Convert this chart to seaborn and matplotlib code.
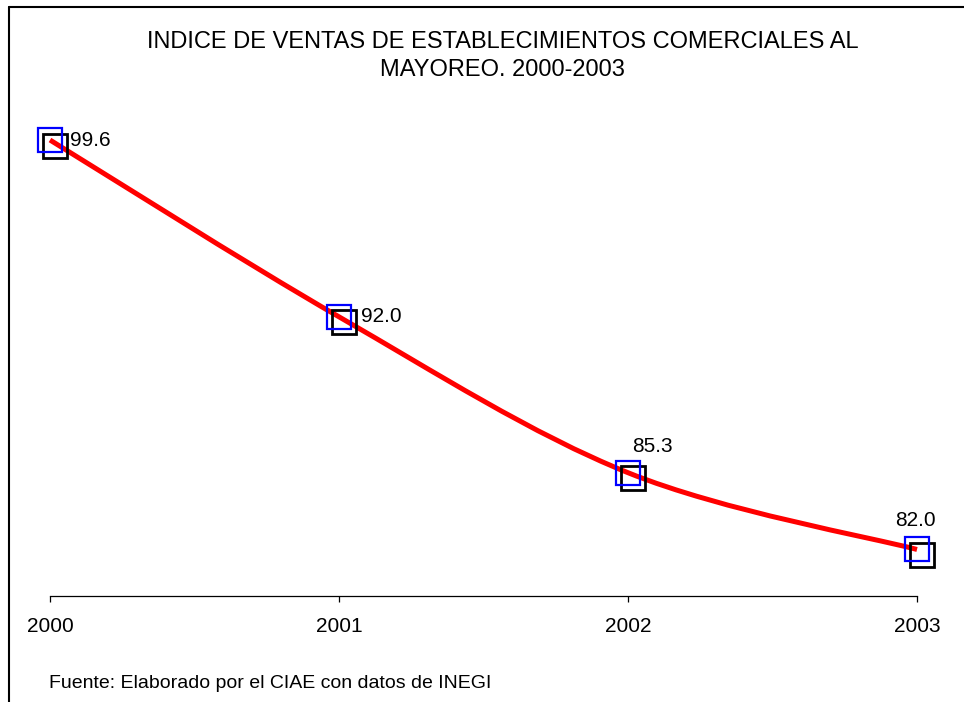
import matplotlib
matplotlib.use("Agg")
import matplotlib.pyplot as plt
import matplotlib.transforms as mtransforms
from matplotlib.path import Path
from matplotlib.patches import PathPatch
from matplotlib.lines import Line2D
import seaborn as sns

# data
years = [2000, 2001, 2002, 2003]
values = [99.6, 92.0, 85.3, 82.0]
point_labels = ["99.6", "92.0", "85.3", "82.0"]
tick_labels = ["2000", "2001", "2002", "2003"]

title = "INDICE DE VENTAS DE ESTABLECIMIENTOS COMERCIALES AL\nMAYOREO. 2000-2003"
source = "Fuente: Elaborado por el CIAE con datos de INEGI"

sns.set_style("white")
plt.rcParams["font.family"] = ["Liberation Sans", "DejaVu Sans"]
plt.rcParams["text.color"] = "black"
plt.rcParams["xtick.color"] = "black"

DPI = 100
fig = plt.figure(figsize=(9.64, 7.02), dpi=DPI)
ax = fig.add_axes([50 / 964, 106 / 702, 867 / 964, 465.3 / 702])
ax.set_xlim(2000, 2003)
ax.set_ylim(80, 100)


def px(dx, dy):
    # offset in screen pixels (y down in the reference -> negate)
    return mtransforms.ScaledTranslation(dx / DPI, -dy / DPI, fig.dpi_scale_trans)


# shadow squares (black, shifted down-right)
sns.lineplot(x=years, y=values, ax=ax, linestyle="none", marker="s",
             markersize=17.5, markerfacecolor="none", markeredgecolor="black",
             markeredgewidth=2.0, color="black", clip_on=False)
ax.lines[-1].set_transform(ax.transData + px(5, 5.5))

# smooth red line (bezier through the points, excel style)
pts = list(zip(years, values))
verts = [pts[0]]
codes = [Path.MOVETO]
n = len(pts)
for i in range(n - 1):
    p0 = pts[max(i - 1, 0)]
    p1 = pts[i]
    p2 = pts[i + 1]
    p3 = pts[min(i + 2, n - 1)]
    c1 = (p1[0] + (p2[0] - p0[0]) / 6, p1[1] + (p2[1] - p0[1]) / 6)
    c2 = (p2[0] - (p3[0] - p1[0]) / 6, p2[1] - (p3[1] - p1[1]) / 6)
    verts += [c1, c2, p2]
    codes += [Path.CURVE4] * 3
ax.add_patch(PathPatch(Path(verts, codes), facecolor="none", edgecolor="#ff0000",
                       lw=3.6, capstyle="butt", clip_on=False))

# blue squares on the points
sns.lineplot(x=years, y=values, ax=ax, linestyle="none", marker="s",
             markersize=17.5, markerfacecolor="none", markeredgecolor="#0000ff",
             markeredgewidth=1.6, color="#0000ff", clip_on=False)

# value labels
offsets = [(20, 0, "left", "center"), (22, 0, "left", "center"),
           (24, -26, "center", "center"), (-2, -29, "center", "center")]
for x, y, lab, (dx, dy, ha, va) in zip(years, values, point_labels, offsets):
    ax.annotate(lab, (x, y), xytext=(dx * 0.72, -dy * 0.72), textcoords="offset points",
                ha=ha, va=va, fontsize=15, color="black")

# axis styling
sns.despine(ax=ax, left=True, top=True, right=True)
ax.spines["bottom"].set_color("black")
ax.spines["bottom"].set_linewidth(0.9)
ax.set_yticks([])
ax.set_xticks(years)
ax.set_xticklabels(tick_labels, fontsize=15)
ax.tick_params(axis="x", bottom=True, direction="out", length=4, width=0.9,
               color="black", labelcolor="black", pad=11)
ax.set_xlabel("")
ax.set_ylabel("")
ax.grid(False)

# title and source
fig.text(502.5 / 964, 1 - 56 / 702, title, ha="center", va="center", fontsize=17,
         linespacing=1.38, color="black")
fig.text(49 / 964, 1 - 684 / 702, source, ha="left", va="center", fontsize=14,
         color="black")

# outer frame (left and top edges only visible)
fig.add_artist(Line2D([8.5 / 964, 8.5 / 964], [0, 1 - 7 / 702], transform=fig.transFigure,
                      color="black", lw=1.5))
fig.add_artist(Line2D([8.5 / 964, 1], [1 - 7 / 702, 1 - 7 / 702], transform=fig.transFigure,
                      color="black", lw=1.5))

fig.savefig("out.png", dpi=DPI)
